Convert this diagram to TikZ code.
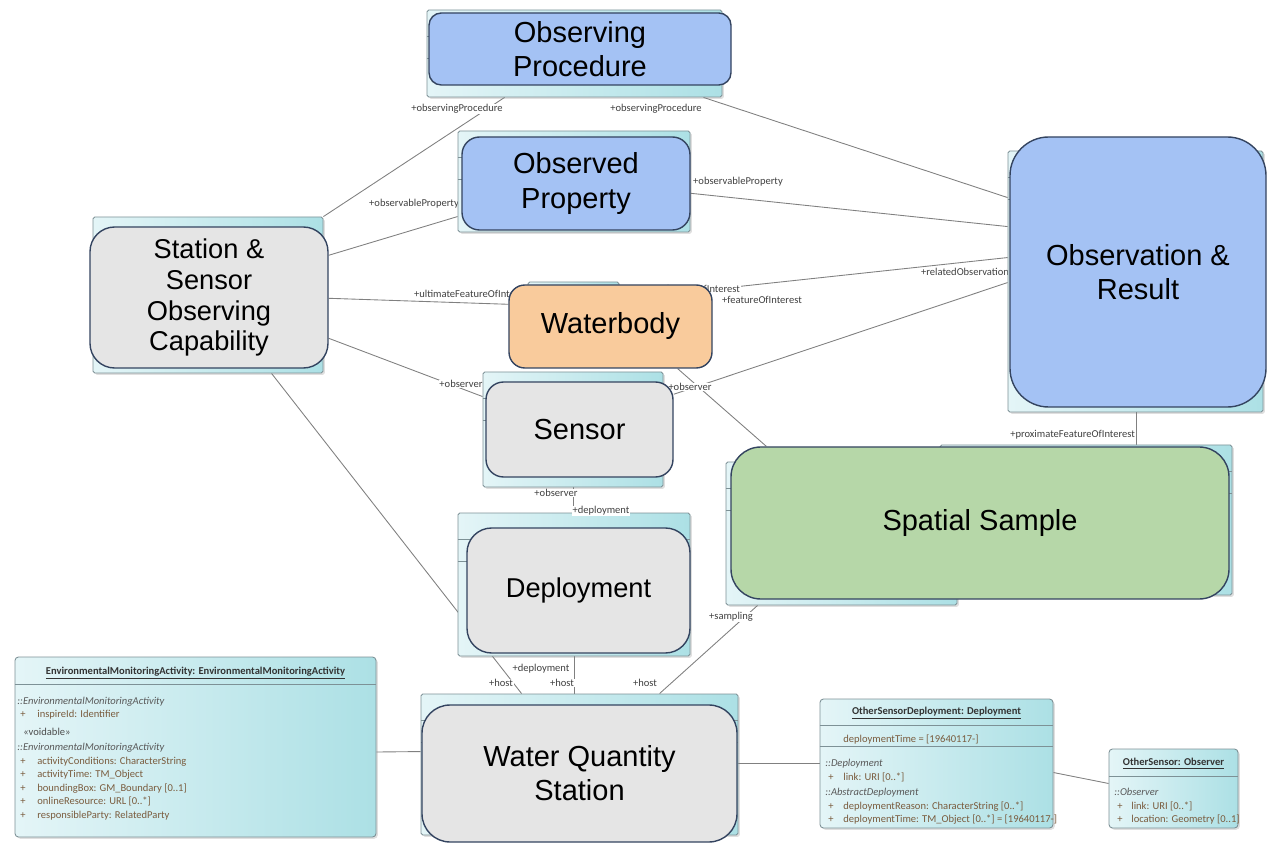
\documentclass[tikz,border=0pt]{standalone}
\usepackage{fontspec}
\setmainfont{Liberation Sans}
\newfontfamily\umlfont{Carlito}
\usetikzlibrary{calc,shadows,backgrounds}

\definecolor{procblue}{RGB}{164,194,244}
\definecolor{boxgray}{RGB}{229,229,229}
\definecolor{waterorange}{RGB}{249,203,156}
\definecolor{samplegreen}{RGB}{182,215,168}
\definecolor{edgenavy}{RGB}{52,68,96}
\definecolor{cyanlight}{RGB}{228,245,247}
\definecolor{cyandark}{RGB}{172,224,229}
\definecolor{cyanedge}{RGB}{125,145,150}
\definecolor{attrbrown}{RGB}{122,92,62}

\tikzset{
  sz/.style 2 args={minimum width=#1*0.02cm, minimum height=#2*0.02cm},
  classbg/.style={draw=cyanedge, line width=0.5pt, left color=cyanlight, right color=cyandark,
    rounded corners=1pt, inner sep=0pt, drop shadow={opacity=0.25, shadow xshift=1pt, shadow yshift=-1pt}},
  concept/.style={draw=edgenavy, line width=0.8pt, align=center, inner sep=0pt,
    font=\fontsize{16.5}{19.5}\selectfont},
  compline/.style={draw=cyanedge, line width=0.4pt},
  assoc/.style={draw=black!50, line width=0.5pt},
  rolelbl/.style={font=\umlfont\fontsize{6}{7}\selectfont, text=black!75, fill=white, inner sep=0.4pt},
  hdrtxt/.style={font=\umlfont\fontsize{6}{7}\selectfont\bfseries, text=black!80, inner sep=0pt},
  nstxt/.style={anchor=west, font=\umlfont\fontsize{6}{7}\selectfont\itshape, text=black!65,
    inner sep=0pt, text height=1.5ex, text depth=.3ex},
  attrtxt/.style={anchor=west, font=\umlfont\fontsize{6}{7}\selectfont, text=attrbrown,
    inner sep=0pt, text height=1.5ex, text depth=.3ex},
}

\begin{document}
\begin{tikzpicture}[x=0.02cm,y=-0.02cm]

\useasboundingbox (0,0) rectangle (1268,844);

%class boxes behind the concepts
\node[classbg, sz={295}{87}] (procbg) at (574.5,53.5) {};
\node[classbg, sz={232}{101}] (propbg) at (574,181.5) {};
\node[classbg, sz={230}{156}] (stsensbg) at (208,295) {};
\node[classbg, sz={91}{83}] (waterbg) at (573.5,323.5) {};
\node[classbg, sz={180}{115}] (sensorbg) at (573,429.5) {};
\node[classbg, sz={232}{143}] (deplbg) at (574,584.5) {};
\node[classbg, sz={317}{141}] (stationbg) at (579.5,764.5) {};
\node[classbg, sz={255}{261}] (obsbg) at (1135.5,281.5) {};
\node[classbg, sz={292}{150}] (sampbgb) at (1086,520) {};
\node[classbg, sz={231}{143}] (sampbg) at (841.5,533.5) {};

%compartment lines
\foreach \b in {procbg,propbg,stsensbg,waterbg,sensorbg,deplbg,stationbg,obsbg,sampbgb,sampbg}
  {
  \draw[compline] ($(\b.north west)+(0,27)$) -- ($(\b.north east)+(0,27)$)
                  ($(\b.north west)+(0,49)$) -- ($(\b.north east)+(0,49)$);
  }

%concepts
\node[concept, fill=procblue, rounded corners=7pt, sz={302}{72}] (proc) at (580,49) {Observing\\Procedure};
\node[concept, fill=procblue, rounded corners=10pt, sz={228}{93}] (prop) at (576,183.5) {Observed\\Property};
\node[concept, fill=boxgray, rounded corners=14pt, sz={238}{141}, font=\fontsize{15.5}{17.6}\selectfont] (stsens) at (209,297.5) {Station \&\\Sensor\\Observing\\Capability};
\node[concept, fill=waterorange, rounded corners=9pt, sz={203}{83}] (water) at (610.5,326.5) {Waterbody};
\node[concept, fill=boxgray, rounded corners=10pt, sz={187}{95}] (sensor) at (579.5,429.5) {Sensor};
\node[concept, fill=boxgray, rounded corners=14pt, sz={223}{125}, font=\fontsize{15.5}{18}\selectfont] (depl) at (578.5,590.5) {Deployment};
\node[concept, fill=boxgray, rounded corners=16pt, sz={315}{137}] (station) at (579.5,773.5) {Water Quantity\\Station};
\node[concept, fill=procblue, rounded corners=22pt, sz={256}{270}] (obs) at (1138,272) {Observation \&\\Result};
\node[concept, fill=samplegreen, rounded corners=17pt, sz={498}{152}] (samp) at (980,523) {Spatial Sample};

%EnvironmentalMonitoringActivity class
\node[classbg, rounded corners=2pt, sz={361}{180}] (ema) at (195.5,747) {};
\node[hdrtxt] (ema-h) at (195.5,673) {\underline{EnvironmentalMonitoringActivity: EnvironmentalMonitoringActivity}};
\draw[compline] ($(ema.north west)+(0,28)$) -- ($(ema.north east)+(0,28)$);
\node[nstxt] (ema-n1) at (17,699) {::EnvironmentalMonitoringActivity};
\node[attrtxt] (ema-q) at (20,712) {+};
\node[attrtxt] (ema-id) at (37,712) {inspireId: Identifier};
\node[attrtxt, text=black!70] (ema-v) at (23,730) {«voidable»};
\node[nstxt] (ema-n2) at (17,745) {::EnvironmentalMonitoringActivity};
\foreach \t [count=\i from 0] in {{activityConditions: CharacterString},{activityTime: TM\_Object},{boundingBox: GM\_Boundary [0..1]},{onlineResource: URL [0..*]},{responsibleParty: RelatedParty}}
  {
  \node[attrtxt] (ema-p\i) at (20,758.5+13.6*\i) {+};
  \node[attrtxt] (ema-a\i) at (37,758.5+13.6*\i) {\t};
  }

%OtherSensorDeployment class
\node[classbg, rounded corners=2pt, sz={233}{129}] (osd) at (936.5,763.5) {};
\node[hdrtxt] (osd-h) at (936.5,713) {\underline{OtherSensorDeployment: Deployment}};
\draw[compline] ($(osd.north west)+(0,27)$) -- ($(osd.north east)+(0,27)$)
                ($(osd.north west)+(0,48)$) -- ($(osd.north east)+(0,48)$);
\node[attrtxt] (osd-t) at (843,736.5) {deploymentTime = [19640117-]};
\node[nstxt] (osd-n1) at (825,761) {::Deployment};
\node[nstxt] (osd-n2) at (825,790) {::AbstractDeployment};
\foreach \t/\y [count=\i] in {{link: URI [0..*]}/774.5,{deploymentReason: CharacterString [0..*]}/803.5,{deploymentTime: TM\_Object [0..*] = [19640117-]}/817}
  {
  \node[attrtxt] (osd-p\i) at (828,\y) {+};
  \node[attrtxt] (osd-a\i) at (843,\y) {\t};
  }

%OtherSensor class
\node[classbg, rounded corners=2pt, sz={129}{79}] (osens) at (1173.5,788.5) {};
\node[hdrtxt] (osens-h) at (1173.5,764) {\underline{OtherSensor: Observer}};
\draw[compline] ($(osens.north west)+(0,28)$) -- ($(osens.north east)+(0,28)$);
\node[nstxt] (osens-n) at (1114,790) {::Observer};
\foreach \t/\y [count=\i] in {{link: URI [0..*]}/803.5,{location: Geometry [0..1]}/817}
  {
  \node[attrtxt] (osens-p\i) at (1117,\y) {+};
  \node[attrtxt] (osens-a\i) at (1131,\y) {\t};
  }

%role name sitting on a box edge
\node[rolelbl] (r-dep1) at (601,511) {+deployment};

%associations
\begin{pgfonlayer}{background}
\draw[assoc] (stsensbg.north east) -- ($(procbg.south west)+(78,0)$);
\draw[assoc] ($(procbg.south east)+(-19,0)$) -- ($(obsbg.north west)+(0,47)$);
\draw[assoc] ($(stsens.north east)+(0,29)$) -- ($(propbg.north west)+(0,86)$);
\draw[assoc] ($(prop.north east)+(0,57)$) -- ($(obsbg.north west)+(0,76)$);
\draw[assoc] ($(stsens.north east)+(0,72)$) -- ($(water.north west)+(0,20)$);
\draw[assoc] ($(water.north east)+(0,5)$) -- ($(obsbg.north west)+(0,107)$);
\draw[assoc] ($(sensor.north east)+(0,13)$) -- ($(obsbg.north west)+(0,132)$);
\draw[assoc] ($(stsens.north east)+(0,112)$) -- ($(sensorbg.north west)+(0,25)$);
\draw[assoc] (sensorbg.south) -- (sensorbg.south |- deplbg.north);
\draw[assoc] ($(stsensbg.south west)+(179,0)$) -- ($(stationbg.north west)+(101,0)$);
\draw[assoc] (deplbg.south) -- (deplbg.south |- stationbg.north);
\draw[assoc] ($(sampbg.south west)+(32,0)$) -- ($(stationbg.north west)+(239,0)$);
\draw[assoc] ($(water.south east)+(-35,0)$) -- ($(samp.north west)+(36,0)$);
\draw[assoc] ($(obs.south west)+(127,0)$) -- ($(samp.north west)+(406,0)$);
\draw[assoc] ($(ema.east)+(0,5)$) -- ($(stationbg.north west)+(0,58)$);
\draw[assoc] (station.east |- osd.west) -- (osd.west);
\draw[assoc] ($(osd.east)+(0,9)$) -- ($(osens.west)+(0,-5)$);

%role names
\node[rolelbl] (r-proc1) at (457,109) {+observingProcedure};
\node[rolelbl] (r-proc2) at (656,109) {+observingProcedure};
\node[rolelbl] (r-prop1) at (414,204) {+observableProperty};
\node[rolelbl] (r-prop2) at (738,182) {+observableProperty};
\node[rolelbl, anchor=west] (r-ult) at (413,294) {+ultimateFeatureOfInterest};
\node[rolelbl, anchor=east] (r-foi1) at (741,289) {+featureOfInterest};
\node[rolelbl] (r-foi2) at (762,300) {+featureOfInterest};
\node[rolelbl] (r-rel) at (965,272) {+relatedObservation};
\node[rolelbl] (r-obs1) at (461,384) {+observer};
\node[rolelbl] (r-obs2) at (690,387) {+observer};
\node[rolelbl] (r-obs3) at (556,493) {+observer};
\node[rolelbl] (r-dep2) at (541,669) {+deployment};
\node[rolelbl] (r-host1) at (501,683) {+host};
\node[rolelbl] (r-host2) at (562,683) {+host};
\node[rolelbl] (r-host3) at (645,683) {+host};
\node[rolelbl] (r-samp) at (731,617) {+sampling};
\node[rolelbl, anchor=east] (r-prox) at (1136,435) {+proximateFeatureOfInterest};
\end{pgfonlayer}

\end{tikzpicture}
\end{document}
